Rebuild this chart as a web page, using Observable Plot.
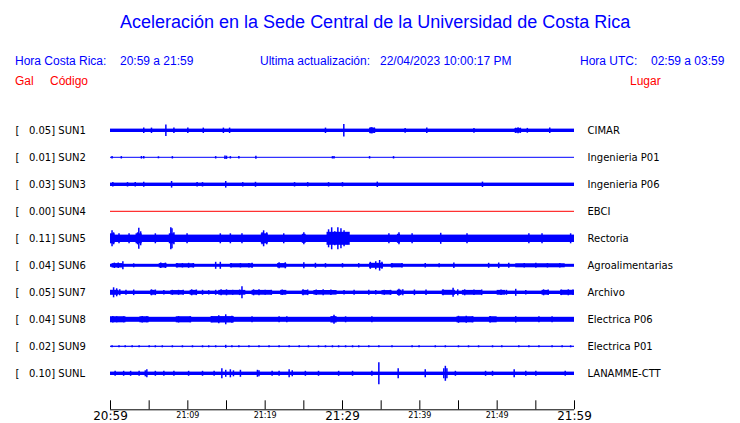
<!DOCTYPE html>
<html>
<head>
<meta charset="utf-8">
<script src="https://cdn.jsdelivr.net/npm/d3@7"></script>
<script src="https://cdn.jsdelivr.net/npm/@observablehq/plot@0.6"></script>
<style>
  html, body { margin: 0; padding: 0; background: #fff; }
  #page { position: relative; width: 740px; height: 423px; overflow: hidden; font-family: "Liberation Sans", Arial, sans-serif; }
  .t { position: absolute; white-space: pre; }
  .title { font-size: 18px; line-height: 18px; color: #0000ff; }
  .hdr { font-size: 12px; line-height: 12px; color: #0000ff; }
  .red { font-size: 12px; line-height: 12px; color: #ff0000; }
  #chart { position: absolute; left: 0; top: 100px; }
  #chart svg text { white-space: pre; }
</style>
</head>
<body>
<div id="page">
  <div class="t title" style="left:120px; top:13px;">Aceleración en la Sede Central de la Universidad de Costa Rica</div>
  <div class="t hdr" style="left:15px; top:55px;">Hora Costa Rica:</div>
  <div class="t hdr" style="left:120px; top:55px;">20:59 a 21:59</div>
  <div class="t hdr" style="left:260px; top:55px;">Ultima actualización:</div>
  <div class="t hdr" style="left:380px; top:55px;">22/04/2023 10:00:17 PM</div>
  <div class="t hdr" style="left:580px; top:55px;">Hora UTC:</div>
  <div class="t hdr" style="left:651px; top:55px;">02:59 a 03:59</div>
  <div class="t red" style="left:15px; top:75px;">Gal</div>
  <div class="t red" style="left:50px; top:75px;">Código</div>
  <div class="t red" style="left:630px; top:75px;">Lugar</div>
  <div id="chart"></div>
</div>
<script>
// ---- data ----
const codes  = ["SUN1","SUN2","SUN3","SUN4","SUN5","SUN6","SUN7","SUN8","SUN9","SUNL"];
const places = ["CIMAR","Ingenieria P01","Ingenieria P06","EBCI","Rectoria","Agroalimentarias","Archivo","Electrica P06","Electrica P01","LANAMME-CTT"];
const peaks  = [0.05, 0.01, 0.03, 0.00, 0.11, 0.04, 0.05, 0.04, 0.02, 0.10];   // Gal
const noise  = [0.017, 0.005, 0.017, 0.005, 0.037, 0.015, 0.017, 0.025, 0.006, 0.017]; // background half-amplitude

// spikes: [minute after 20:59, half-amplitude]
const spikesSUN1 = [[4.3,0.027],[5.3,0.027],[7.16,0.057],[8.2,0.027],[10.0,0.027],[12.0,0.027],[14.6,0.027],[15.4,0.027],[27.8,0.027],[30.17,0.062],[33.6,0.03],[33.8,0.033],[34.1,0.028],[38.1,0.024],[40.9,0.027],[47.0,0.024],[52.4,0.026],[52.7,0.03],[53.0,0.026],[53.9,0.024],[56.8,0.027]];
const spikesSUN2 = [[0.2,0.013],[1.4,0.012],[4.0,0.013],[4.3,0.013],[6.2,0.01],[8.0,0.012],[13.6,0.012],[14.8,0.017],[15.0,0.016],[15.5,0.012],[16.6,0.012],[18.8,0.015],[28.7,0.012],[28.9,0.012],[33.5,0.012],[36.6,0.012]];
const spikesSUN3 = [[0.3,0.023],[2.2,0.022],[3.2,0.022],[4.3,0.025],[7.9,0.033],[11.2,0.022],[11.9,0.022],[14.9,0.033],[17.1,0.022],[18.75,0.025],[23.8,0.022],[25.5,0.022],[28.2,0.022],[30.0,0.022],[34.5,0.027],[48.1,0.027]];
const spikesSUN4 = [];
const spikesSUN5 = [[0.2,0.08],[0.4,0.06],[1.1,0.05],[2.4,0.05],[3.5,0.06],[3.66,0.105],[3.9,0.07],[5.8,0.05],[7.8,0.11],[7.95,0.1],[8.2,0.06],[9.9,0.05],[14.2,0.05],[15.5,0.05],[17.0,0.05],[19.6,0.06],[19.8,0.08],[20.2,0.06],[22.4,0.05],[25.0,0.06],[28.2,0.09],[28.6,0.11],[29.0,0.07],[29.4,0.11],[29.8,0.1],[30.2,0.08],[30.6,0.06],[36.0,0.05],[37.3,0.06],[39.0,0.05],[42.7,0.055],[46.1,0.05],[54.1,0.05],[55.8,0.05],[59.5,0.05]];
const spikesSUN6 = [[0.5,0.027],[1.0,0.027],[1.6,0.04],[3.0,0.02],[6.5,0.027],[7.1,0.027],[8.6,0.022],[9.3,0.022],[10.1,0.025],[10.7,0.022],[13.6,0.035],[14.2,0.035],[15.6,0.022],[16.8,0.022],[17.9,0.022],[18.3,0.025],[21.8,0.03],[22.6,0.03],[25.0,0.03],[26.5,0.025],[27.8,0.022],[30.0,0.022],[32.1,0.022],[33.6,0.035],[34.3,0.04],[34.8,0.053],[35.1,0.035],[36.4,0.022],[37.7,0.022],[40.7,0.022],[42.5,0.02],[44.4,0.028],[48.9,0.025],[50.2,0.028],[51.5,0.025],[53.5,0.022],[55.0,0.025],[56.5,0.022],[58.1,0.022]];
const spikesSUN7 = [[0.4,0.05],[0.8,0.04],[1.2,0.03],[2.0,0.025],[3.0,0.028],[5.3,0.03],[5.8,0.028],[6.9,0.022],[8.0,0.025],[8.8,0.025],[9.4,0.025],[10.5,0.03],[11.1,0.028],[11.9,0.025],[12.7,0.022],[13.6,0.025],[14.3,0.03],[15.0,0.03],[15.8,0.025],[16.7,0.028],[17.0,0.06],[18.5,0.03],[19.2,0.03],[20.0,0.025],[20.8,0.025],[22.2,0.028],[24.9,0.03],[25.5,0.028],[26.6,0.028],[27.5,0.03],[28.5,0.028],[30.2,0.022],[31.5,0.025],[33.4,0.025],[34.3,0.022],[35.4,0.025],[36.2,0.025],[37.3,0.035],[37.8,0.03],[39.3,0.028],[40.8,0.028],[43.0,0.03],[44.3,0.045],[44.9,0.03],[45.8,0.03],[47.0,0.028],[48.0,0.028],[50.5,0.028],[51.2,0.025],[52.4,0.035],[53.7,0.022],[56.0,0.03],[56.6,0.028],[58.3,0.028],[59.2,0.03],[59.8,0.028]];
const spikesSUN8 = [[0.3,0.033],[0.8,0.03],[1.7,0.03],[4.1,0.032],[4.7,0.03],[8.8,0.032],[10.3,0.03],[13.1,0.03],[14.0,0.04],[14.9,0.05],[15.7,0.035],[18.3,0.03],[21.8,0.03],[22.8,0.03],[28.9,0.045],[30.4,0.03],[33.8,0.03],[45.0,0.035],[46.0,0.035],[46.8,0.03],[49.1,0.032],[52.4,0.032],[55.4,0.03],[57.1,0.03]];
const spikesSUN9 = [[0.2,0.01],[1.1,0.01],[1.9,0.01],[2.8,0.01],[3.7,0.01],[5.0,0.01],[5.8,0.01],[6.7,0.01],[8.0,0.01],[9.3,0.01],[10.6,0.01],[11.9,0.01],[12.7,0.01],[13.6,0.01],[14.9,0.015],[15.7,0.01],[16.6,0.01],[17.9,0.01],[19.2,0.01],[20.5,0.01],[21.8,0.01],[23.1,0.01],[24.4,0.01],[25.6,0.01],[26.9,0.01],[27.8,0.01],[28.7,0.01],[29.5,0.01],[30.4,0.01],[31.3,0.01],[32.1,0.01],[33.4,0.01],[34.7,0.01],[36.4,0.01],[39.0,0.01],[39.9,0.01],[42.0,0.01],[43.3,0.01],[45.0,0.01],[46.3,0.01],[47.6,0.01],[49.4,0.01],[50.6,0.01],[52.8,0.01],[54.1,0.01],[55.4,0.01],[57.1,0.01],[58.4,0.01],[59.5,0.01]];
const spikesSUNL = [[0.6,0.025],[1.7,0.025],[2.6,0.025],[3.7,0.025],[4.5,0.03],[4.7,0.04],[5.8,0.025],[6.9,0.025],[8.2,0.025],[10.1,0.025],[11.9,0.025],[13.4,0.025],[14.4,0.05],[14.9,0.035],[15.5,0.04],[15.9,0.03],[16.8,0.035],[19.0,0.035],[19.2,0.03],[20.9,0.025],[21.8,0.025],[23.1,0.04],[23.5,0.03],[25.2,0.025],[26.9,0.025],[29.5,0.025],[31.3,0.025],[33.8,0.025],[34.7,0.11],[37.2,0.05],[40.7,0.04],[43.1,0.05],[43.3,0.075],[43.5,0.05],[44.6,0.025],[48.5,0.025],[49.4,0.025],[52.2,0.04],[53.7,0.025],[55.0,0.025],[58.8,0.025]];
const spikeLists = [spikesSUN1,spikesSUN2,spikesSUN3,spikesSUN4,spikesSUN5,spikesSUN6,spikesSUN7,spikesSUN8,spikesSUN9,spikesSUNL];

// stretches of raised noise: [from minute, to minute, half-amplitude]
const burstsSUN1 = [[33.5,34.3,0.025],[52.3,53.1,0.022]];
const burstsSUN5 = [[0,0.6,0.05],[3.3,4.1,0.05],[7.6,8.3,0.05],[19.5,20.4,0.05],[24.8,25.3,0.045],[28,31,0.065],[37.1,37.5,0.045]];
const burstsSUN6 = [[0.2,1.6,0.022],[6.3,7.3,0.022],[8.5,10.9,0.02],[15.5,18.5,0.02],[21.6,22.8,0.022],[33.5,35.3,0.025],[36.3,37.8,0.02],[52.4,58.8,0.02]];
const burstsSUN7 = [[0,1.1,0.025],[5.2,5.8,0.024],[7.8,9.5,0.022],[10.3,11.2,0.024],[14.0,17.5,0.024],[18.3,20.9,0.024],[22.0,22.8,0.024],[24.8,25.6,0.024],[26.3,29.3,0.023],[35.1,36.4,0.022],[37.1,37.7,0.026],[42.9,44.6,0.025],[45.5,48.1,0.024],[50.0,51.1,0.024],[55.8,56.7,0.024],[58.2,60,0.025]];
const burstsSUN8 = [[0,2,0.03],[3.8,5,0.03],[8.5,10.5,0.03],[13,16,0.032],[28.5,29.3,0.032],[44.8,47,0.03],[49,50,0.03]];
const burstLists = [burstsSUN1,[],[],[],burstsSUN5,burstsSUN6,burstsSUN7,burstsSUN8,[],[]];

// time axis (minutes after 20:59)
const tickMinutes  = [0,5,10,15,20,25,30,35,40,45,50,55,60];
const labelMinutes = [0,10,20,30,40,50,60];
const tickLabels   = ["20:59","21:09","21:19","21:29","21:39","21:49","21:59"];

// ---- layout constants ----
const ROW  = 0.27;            // vertical spacing between traces (Gal-equivalent)
const AXIS = -9 * ROW - 0.36; // level of the time axis

const rows = codes.map((code, i) => ({code, place: places[i], peak: peaks[i], noise: noise[i], row: i}));
const spikeTable = spikeLists.flatMap((list, i) => list.map(([m, a]) => ({row: i, m, a, peak: peaks[i]})));
const burstTable = burstLists.flatMap((list, i) => list.map(([m0, m1, a]) => ({row: i, m0, m1, a, peak: peaks[i]})));
const labels = labelMinutes.map((m, i) => ({m, label: tickLabels[i]}));
const traceColor = d => d.peak === 0 ? "red" : "blue";
const center = d => -d.row * ROW;

const chart = Plot.plot({
  width: 740, height: 323,
  marginLeft: 110, marginRight: 166, marginTop: 0, marginBottom: 0,
  style: {fontFamily: "DejaVu Sans", background: "white", color: "black"},
  x: {domain: [0, 60], axis: null},
  y: {domain: [-2.927, 0.303], axis: null},
  color: {type: "identity"},
  marks: [
    Plot.rect(rows, {x1: 0, x2: 60, y1: d => center(d) - d.noise, y2: d => center(d) + d.noise, fill: traceColor}),
    Plot.rect(burstTable, {x1: "m0", x2: "m1", y1: d => center(d) - d.a, y2: d => center(d) + d.a, fill: traceColor}),
    Plot.ruleX(spikeTable, {x: "m", y1: d => center(d) - d.a, y2: d => center(d) + d.a, stroke: traceColor, strokeWidth: 1.5}),
    Plot.text(rows, {x: 0, y: center, dx: -95, text: d => `[   ${d.peak.toFixed(2)}] ${d.code}`, textAnchor: "start", fontSize: 10, fill: "black"}),
    Plot.text(rows, {x: 60, y: center, dx: 13, text: "place", textAnchor: "start", fontSize: 10, fill: "black"}),
    Plot.ruleY([AXIS], {x1: 0, x2: 60, stroke: "black"}),
    Plot.ruleX(tickMinutes, {x: d => d, y1: AXIS, y2: AXIS + 0.09, stroke: "black"}),
    Plot.text(labels.filter(d => d.m % 30 === 0), {x: "m", y: AXIS, dy: 2, text: "label", lineAnchor: "top", fontSize: 12, fill: "black"}),
    Plot.text(labels.filter(d => d.m % 30 !== 0), {x: "m", y: AXIS, dy: 2.5, text: "label", lineAnchor: "top", fontSize: 8, fill: "black"})
  ]
});
document.getElementById("chart").appendChild(chart);
</script>
</body>
</html>
